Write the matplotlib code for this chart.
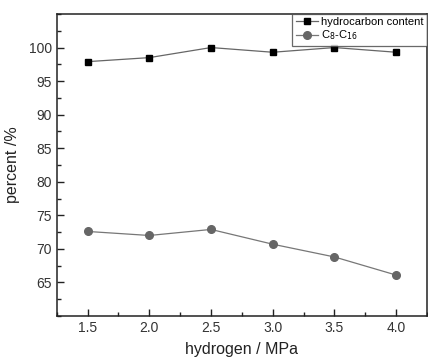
import numpy as np
import matplotlib
matplotlib.use('Agg')
import matplotlib.pyplot as plt
from matplotlib.ticker import MultipleLocator

plt.rcParams['font.family'] = ['Liberation Sans', 'DejaVu Sans']

# data
hydrogen = [1.5, 2.0, 2.5, 3.0, 3.5, 4.0]
hydrocarbon = [97.9, 98.5, 100.0, 99.3, 100.0, 99.3]
c8_c16 = [72.6, 72.0, 72.9, 70.7, 68.8, 66.1]
yticks = [65, 70, 75, 80, 85, 90, 95, 100]
xticks = [1.5, 2.0, 2.5, 3.0, 3.5, 4.0]

fig = plt.figure(figsize=(4.28, 3.57), dpi=100)
ax = fig.add_axes([0.1325, 0.1148, 0.8652, 0.846])

ax.plot(hydrogen, hydrocarbon, '-', color='#666666', lw=0.9,
        marker='s', ms=4.5, mfc='black', mec='black', label='hydrocarbon content')
ax.plot(hydrogen, c8_c16, '-', color='#777777', lw=0.9,
        marker='o', ms=5.5, mfc='#666666', mec='#666666',
        label=r'C$_8$-C$_{16}$')

ax.set_xlim(1.25, 4.25)
ax.set_ylim(60, 105)
ax.set_xticks(xticks)
ax.set_xticklabels(['%.1f' % v for v in xticks])
ax.set_yticks(yticks)
ax.xaxis.set_minor_locator(MultipleLocator(0.25))
ax.yaxis.set_minor_locator(MultipleLocator(2.5))
ax.tick_params(which='both', direction='in', top=False, right=False,
               labelsize=10, color='#222222', labelcolor='#333333')
ax.tick_params(which='major', length=5, width=1)
ax.tick_params(which='minor', length=3, width=1)
for s in ax.spines.values():
    s.set_linewidth(1.1)
    s.set_color('#222222')

ax.set_xlabel('hydrogen / MPa', fontsize=11.5, color='#222222', labelpad=5)
ax.set_ylabel('percent /%', fontsize=11.5, color='#222222', labelpad=6)

leg = ax.legend(loc='upper right', borderaxespad=0, fontsize=8,
                frameon=True, fancybox=False, edgecolor='#444444',
                handlelength=2.0, handletextpad=0.3, labelspacing=0.1,
                borderpad=0.3)
leg.get_frame().set_linewidth(0.9)

fig.savefig('out.png', dpi=100)
